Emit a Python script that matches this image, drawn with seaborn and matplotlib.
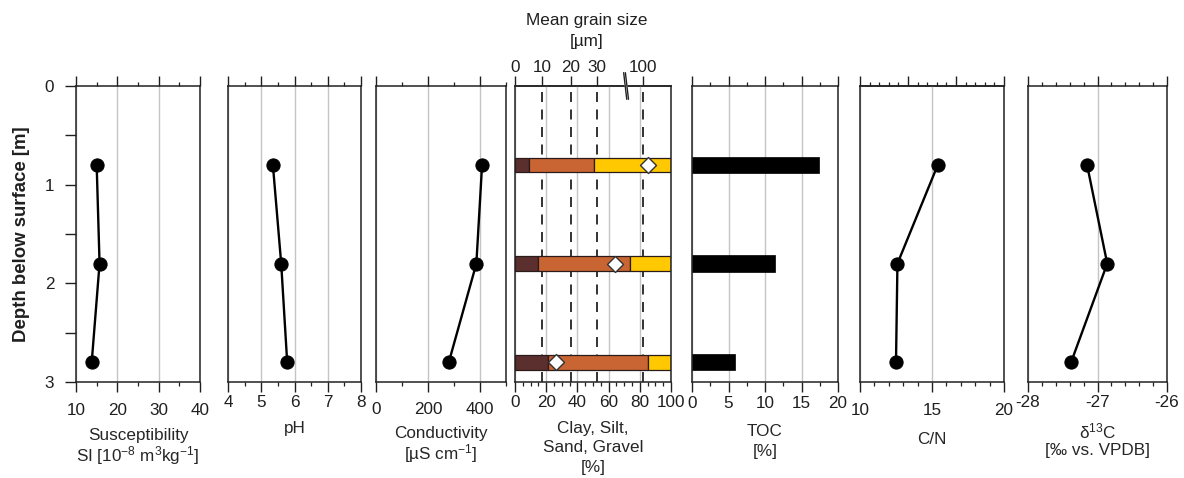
import numpy as np
import matplotlib
matplotlib.use("Agg")
import matplotlib.pyplot as plt
import seaborn as sns
from matplotlib.ticker import MultipleLocator, FixedLocator, NullLocator, FuncFormatter

# ---- profile data (sample depths in metres below surface) ----
depth_m = [0.8, 1.8, 2.8]
susceptibility = [15.0, 15.7, 13.8]
ph = [5.35, 5.60, 5.78]
conductivity = [408, 386, 280]
clay_pct = [9.2, 14.5, 21.4]
silt_pct = [41.4, 59.2, 64.1]
sand_pct = [49.4, 26.3, 14.5]
mean_grain_um = [108, 57, 15]
toc_pct = [17.4, 11.4, 5.9]
c_to_n = [15.4, 12.6, 12.5]
d13c = [-27.15, -26.86, -27.38]

grain_tick_um = [0, 10, 20, 30, 100]
grain_tick_labels = ["0", "10", "20", "30", "100"]

# piecewise grain-size scale of the top axis (µm -> position on the 0-100 % axis)
_scale_um = np.array([0, 10, 20, 30, 100, 1000], dtype=float)
_scale_pos = np.array([0, 17.3, 35.6, 52.6, 82.0, 82.0 + 900 * 29.4 / 70])


def um_to_pos(v):
    return np.interp(v, _scale_um, _scale_pos)


def pos_to_um(v):
    return np.interp(v, _scale_pos, _scale_um)


sns.set_theme(style="white")
plt.rcParams["font.family"] = ["Liberation Sans", "DejaVu Sans"]
plt.rcParams["mathtext.fontset"] = "custom"
plt.rcParams["mathtext.rm"] = "Liberation Sans"
plt.rcParams["mathtext.it"] = "Liberation Sans:italic"
plt.rcParams["mathtext.bf"] = "Liberation Sans:bold"
for key in ("text.color", "xtick.color", "ytick.color", "xtick.labelcolor", "ytick.labelcolor"):
    plt.rcParams[key] = "#1f1f1f"

FS = 12.3
W, H = 1184, 478
fig = plt.figure(figsize=(W / 100, H / 100), dpi=100)
fig.patch.set_facecolor("white")

TOP_PX, BOT_PX = 86, 382
panel_px = [(76, 200), (228, 361), (376, 506), (515, 671),
            (692, 838), (860, 1004), (1028, 1167)]
axes = []
for x0, x1 in panel_px:
    ax = fig.add_axes([x0 / W, 1 - BOT_PX / H, (x1 - x0) / W, (BOT_PX - TOP_PX) / H])
    axes.append(ax)

SPINE_C = "#222222"
GRID_C = "#c4c4c4"
MAJ_LEN, MIN_LEN = 7.2, 3.0


def label_pad(center_px):
    # distance from tick end to the label box, in points
    return max((center_px - 9.0 - (BOT_PX + 10)) * 0.72, 0.5)


def style_panel(ax, xlim, major, minor, label_center_px, top=True):
    ax.set_xlim(*xlim)
    ax.set_ylim(3, 0)
    ax.xaxis.set_major_locator(MultipleLocator(major))
    ax.xaxis.set_minor_locator(MultipleLocator(minor))
    ax.tick_params(axis="x", which="both", direction="out", bottom=True, top=top,
                   labelbottom=True, labeltop=False, labelsize=FS)
    ax.tick_params(axis="x", which="major", length=MAJ_LEN, width=1.0,
                   pad=label_pad(label_center_px))
    ax.tick_params(axis="x", which="minor", length=MIN_LEN, width=0.9)
    ax.tick_params(axis="y", which="both", left=False, right=False, labelleft=False)
    for s in ax.spines.values():
        s.set_linewidth(1.1)
        s.set_color(SPINE_C)
        s.set_visible(True)
    ax.grid(axis="x", which="major", color=GRID_C, lw=1.0)
    ax.grid(axis="y", visible=False)
    ax.set_axisbelow(True)
    ax.set_facecolor("white")


def set_label(ax, text, center_px, spacing=1.35):
    ax.set_xlabel(text, fontsize=FS, va="center", ha="center", linespacing=spacing)
    ax.xaxis.set_label_coords(0.5, (BOT_PX - center_px) / (BOT_PX - TOP_PX))


def profile(ax, values):
    sns.lineplot(x=values, y=depth_m, orient="y", ax=ax, color="black", lw=1.7,
                 marker="o", markersize=9.5, markeredgecolor="black", legend=False, zorder=3)
    ax.set_ylim(3, 0)
    ax.set_ylabel("")


# ---- magnetic susceptibility (also carries the depth axis) ----
ax = axes[0]
style_panel(ax, (10, 40), 10, 5, 412)
profile(ax, susceptibility)
ax.set_yticks([0, 1, 2, 3])
ax.yaxis.set_minor_locator(MultipleLocator(0.5))
ax.tick_params(axis="y", which="both", left=True, labelleft=True, direction="out",
               length=7.7, width=1.0, labelsize=FS, pad=8)
fig.text(22 / W, 1 - 234 / H, "Depth below surface [m]", rotation=90,
         fontsize=13.4, fontweight="bold", ha="center", va="center")
set_label(ax, "Susceptibility\nSI [10$^{-8}$ m$^{3}$kg$^{-1}$]", 447.5, spacing=1.12)

# ---- pH ----
ax = axes[1]
style_panel(ax, (4, 8), 1, 0.5, 404)
profile(ax, ph)
set_label(ax, "pH", 429)

# ---- conductivity ----
ax = axes[2]
style_panel(ax, (0, 500), 200, 100, 411)
profile(ax, conductivity)
set_label(ax, "Conductivity\n[µS cm$^{-1}$]", 445.5, spacing=1.12)

# ---- grain size composition ----
ax = axes[3]
style_panel(ax, (0, 100), 20, 5, 404, top=False)
bar_h = 0.15
clay_c, silt_c, sand_c = "#5c2f2f", "#c86533", "#ffc800"
left = np.zeros(len(depth_m))
for vals, col in ((clay_pct, clay_c), (silt_pct, silt_c), (sand_pct, sand_c)):
    ax.barh(depth_m, vals, left=left, height=bar_h, color=col,
            edgecolor="#2a1a1a", linewidth=0.9, zorder=2)
    left = left + np.asarray(vals)
for um in grain_tick_um[1:]:
    ax.axvline(um_to_pos(um), color="#111111", lw=1.2, ls=(0, (6, 4.5)), zorder=1)
sns.scatterplot(x=um_to_pos(mean_grain_um), y=depth_m, ax=ax, marker="D", s=66,
                color="white", edgecolor="#333333", linewidth=1.0, zorder=4, legend=False)
ax.set_ylim(3, 0)
ax.set_ylabel("")
sec = ax.secondary_xaxis("top", functions=(pos_to_um, um_to_pos))
sec.xaxis.set_major_locator(FixedLocator(grain_tick_um))
sec.xaxis.set_minor_locator(NullLocator())
sec.set_xticklabels(grain_tick_labels)
sec.tick_params(axis="x", which="major", direction="out", length=MAJ_LEN, width=1.0,
                labelsize=FS, pad=1.0)
sec.spines["top"].set_linewidth(1.1)
sec.spines["top"].set_color(SPINE_C)
# axis break between 30 and 100 µm
bx = 0.71
ax.plot([bx - 0.008, bx + 0.012], [1.045, 0.955], transform=ax.transAxes,
        color="white", lw=2.0, clip_on=False, zorder=6, solid_capstyle="butt")
for dx in (-0.0055, 0.0055):
    ax.plot([bx - 0.008 + dx, bx + 0.012 + dx], [1.045, 0.955], transform=ax.transAxes,
            color="#222222", lw=1.0, clip_on=False, zorder=7)
set_label(ax, "Clay, Silt,\nSand, Gravel\n[%]", 448)
fig.text(587 / W, 1 - 31 / H, "Mean grain size\n[µm]", ha="center", va="center",
         fontsize=FS, linespacing=1.45)

# ---- total organic carbon ----
ax = axes[4]
style_panel(ax, (0, 20), 5, 2.5, 405)
ax.barh(depth_m, toc_pct, height=0.165, color="black", edgecolor="black", lw=0.5, zorder=2)
ax.set_ylim(3, 0)
set_label(ax, "TOC\n[%]", 441.5)

# ---- C/N ratio ----
ax = axes[5]
style_panel(ax, (10, 20), 5, 1, 412, top=False)
profile(ax, c_to_n)
sec = ax.secondary_xaxis("top")
sec.xaxis.set_major_locator(FixedLocator([10, 10 + 10 / 3, 10 + 20 / 3, 20]))
sec.xaxis.set_minor_locator(MultipleLocator(2 / 3))
sec.tick_params(axis="x", which="both", direction="out", labeltop=False, width=1.0)
sec.tick_params(axis="x", which="major", length=MAJ_LEN)
sec.tick_params(axis="x", which="minor", length=MIN_LEN, width=0.9)
sec.spines["top"].set_linewidth(1.1)
sec.spines["top"].set_color(SPINE_C)
set_label(ax, "C/N", 439)

# ---- stable carbon isotopes ----
ax = axes[6]
style_panel(ax, (-28, -26), 1, 0.2, 404)
profile(ax, d13c)
ax.xaxis.set_major_formatter(FuncFormatter(lambda v, p: f"{v:.0f}"))
set_label(ax, "δ$^{13}$C\n[‰ vs. VPDB]", 439.5, spacing=1.15)

fig.savefig("out.png", dpi=100, facecolor="white")
